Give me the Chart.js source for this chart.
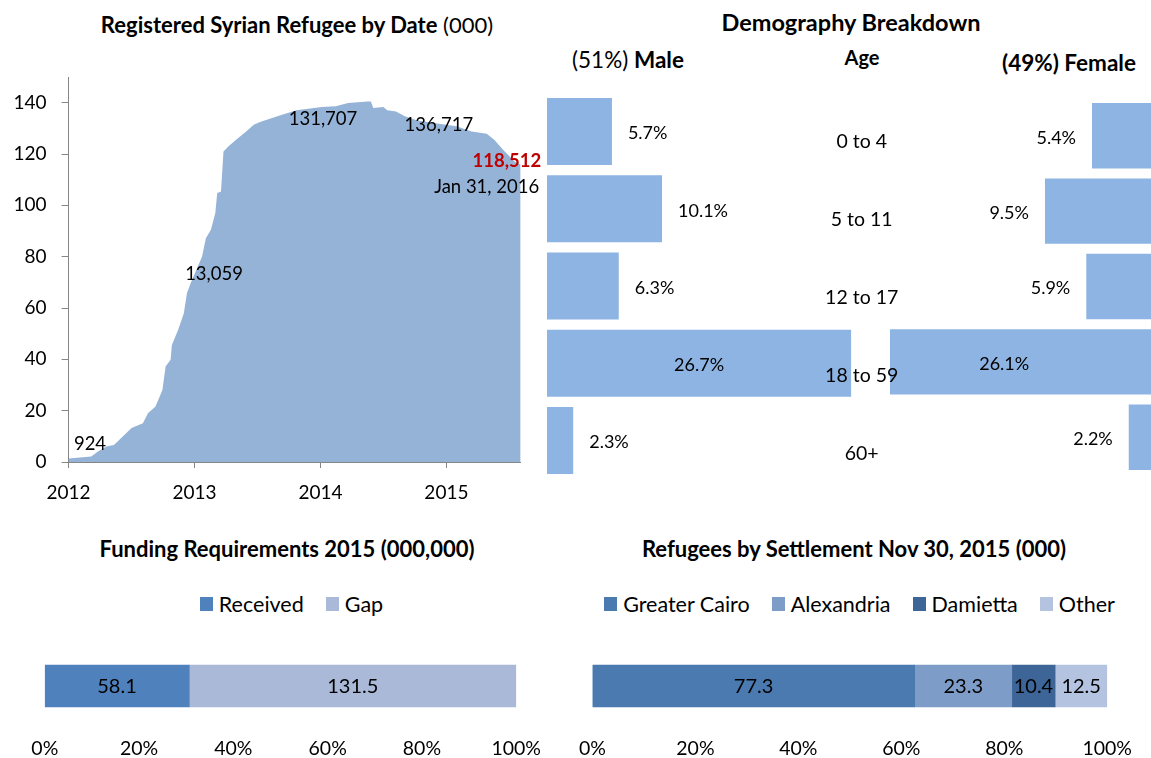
<!DOCTYPE html>
<html><head><meta charset="utf-8">
<script src="https://cdn.jsdelivr.net/npm/chart.js@4.4.0/dist/chart.umd.min.js"></script>
<style>
html,body{margin:0;padding:0;width:1151px;height:758px;overflow:hidden;background:#fff;font-family:Lato,'Noto Sans',sans-serif;color:#000}
.t{position:absolute;transform:translate(-50%,-50%);white-space:nowrap;line-height:1}
canvas{position:absolute}
.legend{position:absolute;display:flex;justify-content:center;font-size:21.5px;height:24px;align-items:center}
.li{display:flex;align-items:center;margin:0 11px}
.li i{display:inline-block;width:13px;height:14px;margin-right:6px}
</style></head><body>
<div class="t" style="left:297px;top:25px;font-size:22px"><b>Registered Syrian Refugee by Date</b> (000)</div>
<div class="t" style="left:851px;top:23px;font-size:23.5px"><b>Demography Breakdown</b></div>
<div class="t" style="left:628px;top:60px;font-size:22.5px">(51%) <b>Male</b></div>
<div class="t" style="left:862px;top:57px;font-size:20px"><b>Age</b></div>
<div class="t" style="left:1069px;top:63px;font-size:22.5px"><b>(49%) Female</b></div>
<div class="t" style="left:287px;top:549px;font-size:22px"><b>Funding Requirements 2015 (000,000)</b></div>
<div class="t" style="left:854px;top:549px;font-size:22px"><b>Refugees by Settlement Nov 30, 2015 (000)</b></div>
<div id="lg1" class="legend" style="left:0;top:592px;width:583px"></div>
<div id="lg2" class="legend" style="left:568px;top:592px;width:583px"></div>

<canvas id="c1" width="560" height="510" style="left:0;top:0"></canvas>
<canvas id="cf" width="264" height="377" style="left:890px;top:98px;z-index:1"></canvas>
<canvas id="cm" width="363" height="386" style="left:547px;top:93px;z-index:2"></canvas>
<canvas id="c4" width="560" height="118" style="left:0;top:640px"></canvas>
<canvas id="c5" width="591" height="118" style="left:560px;top:640px"></canvas>

<script>
// ---- data ----
const years = [2012.00,2012.18,2012.23,2012.30,2012.36,2012.43,2012.50,2012.59,2012.63,2012.69,2012.745,2012.77,2012.81,2012.82,2012.87,2012.915,2012.94,2012.97,2013.06,2013.09,2013.13,2013.165,2013.18,2013.21,2013.23,2013.27,2013.33,2013.41,2013.47,2013.52,2013.67,2013.81,2014.01,2014.12,2014.22,2014.375,2014.40,2014.42,2014.50,2014.53,2014.60,2014.67,2014.77,2014.94,2015.08,2015.20,2015.32,2015.38,2015.45,2015.54,2015.59];
const refugees = [1.4,2.1,4.0,6.0,6.6,9.9,13.2,15.1,19.0,21.6,28.1,37.2,39.8,45.6,51.5,58.0,65.8,69.7,80.1,87.2,90.5,97.0,104.8,105.4,121.0,123.0,125.6,128.8,131.4,132.5,134.9,137.0,138.3,138.6,139.9,140.5,140.5,137.9,138.3,137.0,136.6,134.7,133.1,131.8,130.8,128.8,127.9,125.6,121.7,117.1,115.8];
const xTickYears = [2012,2013,2014,2015];
const yTicks = [0,20,40,60,80,100,120,140];
const noteTexts = ['924','13,059','131,707','136,717','118,512','Jan 31, 2016'];
const noteYears = [2012.17,2013.155,2014.02,2014.94,2015.48,2015.32];
const noteValues = [7.0,73.3,133.8,131.4,117.1,107.0];

const ageGroups = ['0 to 4','5 to 11','12 to 17','18 to 59','60+'];
const malePct = [5.7,10.1,6.3,26.7,2.3];
const femalePct = [5.4,9.5,5.9,26.1,2.2];

const fundingLabels = ['Received','Gap'];
const fundingValues = [58.1,131.5];
const settlementLabels = ['Greater Cairo','Alexandria','Damietta','Other'];
const settlementValues = [77.3,23.3,10.4,12.5];
const pctTicks = [0,20,40,60,80,100];

// ---- styles ----
const FONT = 'Lato';
Chart.defaults.font.family = FONT;
Chart.defaults.color = '#000';
const AREA_COLOR = '#95B3D7';
const DEMO_COLOR = '#8DB4E2';
const fundingColors = ['#4F81BD','#AAB9D7'];
const settlementColors = ['#4A7AB0','#7E9CC8','#3D6597','#B4C3E0'];
const AXIS = '#868686';

// ---- area chart ----
const notesPlugin = {
  id:'notes',
  afterDatasetsDraw(chart){
    const ctx = chart.ctx, xs = chart.scales.x, ys = chart.scales.y;
    ctx.save();
    ctx.textAlign='center'; ctx.textBaseline='middle';
    noteTexts.forEach((t,i)=>{
      if (i===4){ ctx.font='bold 18.5px '+FONT; ctx.fillStyle='#C00000'; }
      else { ctx.font='18.5px '+FONT; ctx.fillStyle='#000'; }
      ctx.fillText(t, xs.getPixelForValue(noteYears[i]), ys.getPixelForValue(noteValues[i]));
    });
    ctx.restore();
  }
};
new Chart(document.getElementById('c1'), {
  type:'line',
  data:{datasets:[{data:years.map((y,i)=>({x:y,y:refugees[i]})), fill:'origin', backgroundColor:AREA_COLOR, borderColor:'rgba(0,0,0,0)', borderWidth:0, pointRadius:0, tension:0}]},
  options:{
    responsive:false, animation:false, devicePixelRatio:1,
    layout:{padding:{top:77,right:39.3,left:0,bottom:0}},
    plugins:{legend:{display:false}, tooltip:{enabled:false}},
    scales:{
      x:{type:'linear', min:2012, max:2015.59,
        afterBuildTicks:s=>{s.ticks=xTickYears.map(v=>({value:v}));},
        afterFit:s=>{s.height=48;},
        ticks:{callback:v=>String(v), font:{size:19}, padding:13, maxRotation:0, autoSkip:false},
        grid:{drawOnChartArea:false, tickLength:6, color:AXIS}, border:{color:AXIS}},
      y:{min:0, max:150,
        afterBuildTicks:s=>{s.ticks=yTicks.map(v=>({value:v}));},
        afterFit:s=>{s.width=68.6;},
        ticks:{font:{size:19}, padding:15},
        grid:{drawOnChartArea:false, tickLength:7, color:AXIS}, border:{color:AXIS}}
    }
  },
  plugins:[notesPlugin]
});

// ---- demography ----
function demoLabels(side){
  return {
    id:'dl'+side,
    afterDatasetsDraw(chart){
      const ctx=chart.ctx, xs=chart.scales.x, meta=chart.getDatasetMeta(0);
      const vals = chart.data.datasets[0].data;
      ctx.save(); ctx.font='18px '+FONT; ctx.fillStyle='#000'; ctx.textBaseline='middle';
      meta.data.forEach((bar,i)=>{
        const v=vals[i], txt=v.toFixed(1)+'%';
        if (v>15){ ctx.textAlign='center'; ctx.fillText(txt, xs.getPixelForValue(v/2), bar.y+2); }
        else if (side==='m'){ ctx.textAlign='left'; ctx.fillText(txt, bar.x+16, bar.y+2); }
        else { ctx.textAlign='right'; ctx.fillText(txt, bar.x-16, bar.y+2); }
      });
      if (side==='m'){
        ctx.textAlign='center'; ctx.font='19.5px '+FONT;
        meta.data.forEach((bar,i)=>{ ctx.fillText(chart.data.labels[i], chart.chartArea.right-27, bar.y+10+i*0.9); });
      }
      ctx.restore();
    }
  };
}
function demoChart(id, vals, max, reverse, padR, side){
  new Chart(document.getElementById(id), {
    type:'bar',
    data:{labels:ageGroups, datasets:[{data:vals, backgroundColor:DEMO_COLOR, borderWidth:0, barPercentage:0.868, categoryPercentage:1}]},
    options:{indexAxis:'y', responsive:false, animation:false, devicePixelRatio:1,
      layout:{padding:{left:0,right:padR,top:0,bottom:0}},
      plugins:{legend:{display:false}, tooltip:{enabled:false}},
      scales:{x:{display:false, min:0, max:max, reverse:reverse}, y:{display:false}}},
    plugins:[demoLabels(side)]
  });
}
demoChart('cm', malePct, 30, false, 21.3, 'm');
demoChart('cf', femalePct, 23, true, 0, 'f');

// ---- stacked 100% bars ----
const stackLabels = {
  id:'sl',
  afterDatasetsDraw(chart){
    const ctx=chart.ctx;
    ctx.save(); ctx.font='20px '+FONT; ctx.fillStyle='#000'; ctx.textAlign='center'; ctx.textBaseline='middle';
    chart.data.datasets.forEach((ds,i)=>{
      const bar=chart.getDatasetMeta(i).data[0];
      ctx.fillText(ds.raw.toFixed(1), (bar.x+bar.base)/2, bar.y+1);
    });
    ctx.restore();
  }
};
function stackChart(id, labels, values, colors, padL, padR){
  const total = values.reduce((a,b)=>a+b,0);
  new Chart(document.getElementById(id), {
    type:'bar',
    data:{labels:[''], datasets:labels.map((l,i)=>({label:l, data:[values[i]/total*100], raw:values[i], backgroundColor:colors[i], borderWidth:0, barThickness:42}))},
    options:{indexAxis:'y', responsive:false, animation:false, devicePixelRatio:1,
      layout:{padding:{left:padL,right:padR,top:14,bottom:0}},
      plugins:{legend:{display:false}, tooltip:{enabled:false}},
      scales:{
        x:{stacked:true, min:0, max:100,
          afterBuildTicks:s=>{s.ticks=pctTicks.map(v=>({value:v}));},
          afterFit:s=>{s.height=40;},
          ticks:{callback:v=>v+'%', font:{size:19.5}, padding:19, maxRotation:0, autoSkip:false},
          grid:{display:false, drawTicks:false}, border:{display:false}},
        y:{stacked:true, display:false}}},
    plugins:[stackLabels]
  });
  const lg = document.getElementById(id==='c4'?'lg1':'lg2');
  labels.forEach((l,i)=>{
    const it=document.createElement('span'); it.className='li';
    const sw=document.createElement('i'); sw.style.background=colors[i];
    it.appendChild(sw); it.appendChild(document.createTextNode(l)); lg.appendChild(it);
  });
}
stackChart('c4', fundingLabels, fundingValues, fundingColors, 44.8, 43.4);
stackChart('c5', settlementLabels, settlementValues, settlementColors, 24.5, 39);
</script>
</body></html>
